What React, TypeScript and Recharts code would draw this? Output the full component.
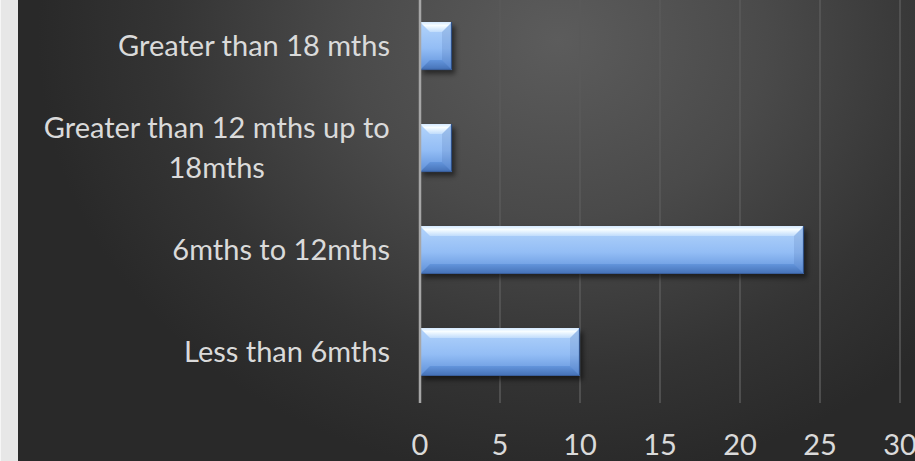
import React from 'react';
import { BarChart, Bar, XAxis, YAxis, CartesianGrid } from 'recharts';

// waiting-time buckets, top to bottom as drawn
const categories = [
  'Greater than 18 mths',
  'Greater than 12 mths up to 18mths',
  '6mths to 12mths',
  'Less than 6mths',
];
const counts = [2, 2, 24, 10];
const xTicks = [0, 5, 10, 15, 20, 25, 30];

const data = categories.map((name, i) => ({ name, count: counts[i] }));

const FONT = 'Lato, "Open Sans", sans-serif';
const FONT_SIZE = 29;
const LABEL_COLOR = '#dadada';

let ctx: CanvasRenderingContext2D | null = null;
const measure = (s: string) => {
  if (!ctx) ctx = document.createElement('canvas').getContext('2d');
  if (!ctx) return s.length * FONT_SIZE * 0.5;
  ctx.font = `${FONT_SIZE}px Lato`;
  return ctx.measureText(s).width;
};

// greedy word wrap by character count
const wrap = (text: string, maxChars: number) => {
  const lines: string[] = [];
  let cur = '';
  text.split(' ').forEach(w => {
    const next = cur ? cur + ' ' + w : w;
    if (next.length > maxChars && cur) {
      lines.push(cur);
      cur = w;
    } else {
      cur = next;
    }
  });
  if (cur) lines.push(cur);
  return lines;
};

const CategoryTick = (props: any) => {
  const { x, y, payload } = props;
  const lines = wrap(String(payload.value), 26);
  const right = x - 22;
  const lineH = 40;
  const base = y + 10 - ((lines.length - 1) * lineH) / 2;
  const blockW = Math.max(...lines.map(measure));
  const cx = right - blockW / 2;
  return (
    <g>
      {lines.map((l, i) => (
        <text
          key={i}
          x={lines.length === 1 ? right : cx}
          y={base + i * lineH}
          textAnchor={lines.length === 1 ? 'end' : 'middle'}
          fill={LABEL_COLOR}
          fontSize={FONT_SIZE}
          fontFamily={FONT}
        >
          {l}
        </text>
      ))}
    </g>
  );
};

const ValueTick = (props: any) => {
  const { x, y, payload } = props;
  return (
    <text x={x} y={y + 44} textAnchor="middle" fill={LABEL_COLOR} fontSize={FONT_SIZE} fontFamily={FONT}>
      {payload.value}
    </text>
  );
};

const BevelBar = (props: any) => {
  const { x, y, width, height } = props;
  if (!width || width <= 0) return null;
  const b = Math.min(10, height / 4, width / 2);
  const r = x + width;
  const btm = y + height;
  return (
    <g>
      <defs>
        <linearGradient id="barBody" x1="0" y1="0" x2="0" y2="1">
          <stop offset="0%" stopColor="#b3d4fb" />
          <stop offset="55%" stopColor="#93bdf5" />
          <stop offset="100%" stopColor="#5d8fd9" />
        </linearGradient>
        <linearGradient id="barTop" x1="0" y1="0" x2="0" y2="1">
          <stop offset="0%" stopColor="#d4e9ff" />
          <stop offset="35%" stopColor="#f7fdff" />
          <stop offset="100%" stopColor="#c0dcfc" />
        </linearGradient>
        <linearGradient id="barBottom" x1="0" y1="0" x2="0" y2="1">
          <stop offset="0%" stopColor="#6395dc" />
          <stop offset="100%" stopColor="#4470b5" />
        </linearGradient>
        <filter id="barShadow" x="-20%" y="-30%" width="140%" height="170%">
          <feGaussianBlur stdDeviation="2.5" />
        </filter>
      </defs>
      <rect x={x + 3} y={y + 4} width={width} height={height} fill="#000" opacity={0.5} filter="url(#barShadow)" />
      <rect x={x} y={y} width={width} height={height} fill="url(#barBody)" />
      <polygon points={`${x},${y} ${r},${y} ${r - b},${y + b} ${x + b},${y + b}`} fill="url(#barTop)" />
      <polygon points={`${x},${btm} ${r},${btm} ${r - b},${btm - b} ${x + b},${btm - b}`} fill="url(#barBottom)" />
      <polygon points={`${r},${y} ${r},${btm} ${r - b},${btm - b} ${r - b},${y + b}`} fill="#1e3f80" opacity={0.12} />
      <line x1={r - 0.5} y1={y} x2={r - 0.5} y2={btm} stroke="#2e4f86" strokeWidth={1.2} />
      <line x1={x} y1={btm - 0.5} x2={r} y2={btm - 0.5} stroke="#3a5f9c" strokeWidth={1.2} />
    </g>
  );
};

const App: React.FC = () => {
  return (
    <div style={{ position: 'absolute', left: 0, top: 0, width: 915, height: 461, background: '#e7e7e7', overflow: 'hidden' }}>
      <div style={{ position: 'absolute', left: 0, top: 0, width: 1, height: 461, background: '#f6f6f6' }} />
      <div
        style={{
          position: 'absolute',
          left: 18,
          top: 0,
          width: 897,
          height: 461,
          background:
            'radial-gradient(ellipse 520px 440px at 540px 40px, #5c5c5c 0%, #4a4a4a 40%, #343434 75%, #292929 100%)',
          backgroundColor: '#282828',
        }}
      />
      <div style={{ position: 'absolute', left: 0, top: 0 }}>
        <BarChart
          width={915}
          height={461}
          data={data}
          layout="vertical"
          margin={{ top: -5, right: 15, bottom: 0, left: 0 }}
        >
          <CartesianGrid horizontal={false} stroke="#5a5a5a" strokeWidth={1.5} />
          <XAxis
            type="number"
            domain={[0, 30]}
            ticks={xTicks}
            axisLine={false}
            tickLine={false}
            height={58}
            tick={<ValueTick />}
            interval={0}
          />
          <YAxis
            type="category"
            dataKey="name"
            width={420}
            axisLine={{ stroke: '#a6a6a6', strokeWidth: 2.5 }}
            tickLine={false}
            tick={<CategoryTick />}
            interval={0}
          />
          <Bar dataKey="count" barSize={48} shape={<BevelBar />} isAnimationActive={false} />
        </BarChart>
      </div>
    </div>
  );
};

export default App;
